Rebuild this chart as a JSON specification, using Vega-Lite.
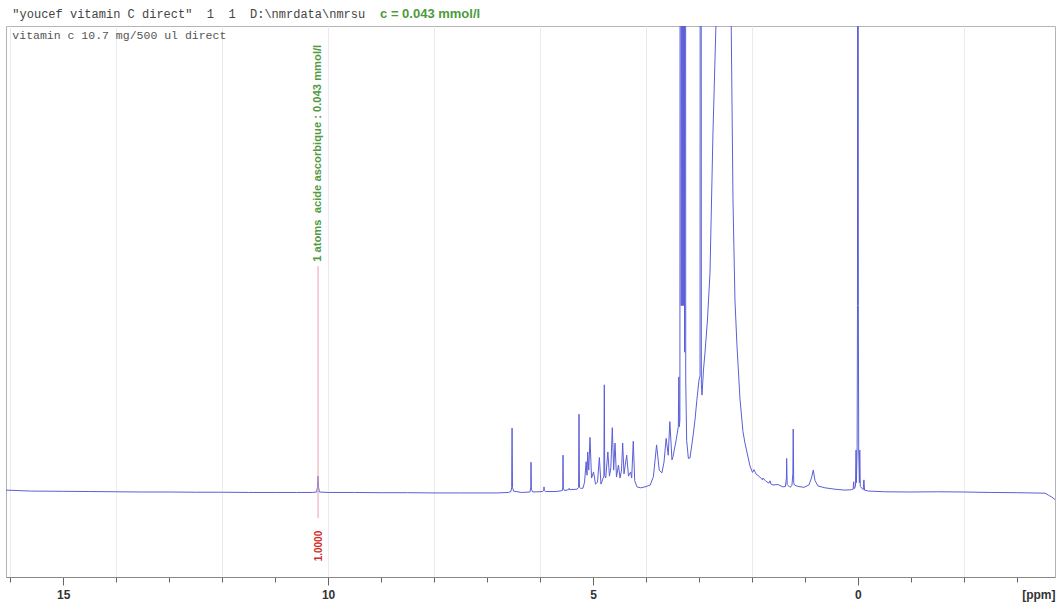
{
  "$schema": "https://vega.github.io/schema/vega-lite/v6.json",
  "width": 1049,
  "height": 551,
  "autosize": {"type": "none"},
  "padding": {"left": 6, "top": 26, "right": 5, "bottom": 27},
  "background": "white",
  "config": {"view": {"stroke": "#b4b4b4", "strokeWidth": 1}},
  "datasets": {
    "spectrum": [
      {"ppm": 16.08, "i": 0.4}, {"ppm": 15.6, "i": 0.2}, {"ppm": 15.0, "i": 0.15}, {"ppm": 14.5, "i": 0.1},
      {"ppm": 14.0, "i": 0.05}, {"ppm": 13.5, "i": 0.0}, {"ppm": 13.0, "i": 0.0}, {"ppm": 12.5, "i": -0.05},
      {"ppm": 12.0, "i": -0.05}, {"ppm": 11.5, "i": -0.1}, {"ppm": 11.0, "i": -0.1}, {"ppm": 10.6, "i": -0.1},
      {"ppm": 10.3, "i": -0.1}, {"ppm": 10.215, "i": 0.0}, {"ppm": 10.2, "i": 1.2}, {"ppm": 10.19, "i": 3.4},
      {"ppm": 10.18, "i": 1.0}, {"ppm": 10.165, "i": 0.0}, {"ppm": 10.0, "i": -0.1}, {"ppm": 9.5, "i": -0.1},
      {"ppm": 9.0, "i": -0.15}, {"ppm": 8.5, "i": -0.15}, {"ppm": 8.0, "i": -0.2}, {"ppm": 7.5, "i": -0.2},
      {"ppm": 7.0, "i": -0.2}, {"ppm": 6.8, "i": -0.2}, {"ppm": 6.6, "i": -0.1}, {"ppm": 6.55, "i": 0.1},
      {"ppm": 6.535, "i": 1.0}, {"ppm": 6.528, "i": 13.7}, {"ppm": 6.52, "i": 1.0}, {"ppm": 6.5, "i": 0.2},
      {"ppm": 6.35, "i": -0.1}, {"ppm": 6.19, "i": 0.0}, {"ppm": 6.175, "i": 1.0}, {"ppm": 6.17, "i": 6.4},
      {"ppm": 6.163, "i": 0.6}, {"ppm": 6.14, "i": 0.0}, {"ppm": 5.95, "i": 0.1}, {"ppm": 5.93, "i": 0.4},
      {"ppm": 5.925, "i": 1.1}, {"ppm": 5.918, "i": 0.3}, {"ppm": 5.9, "i": 0.1}, {"ppm": 5.7, "i": 0.1},
      {"ppm": 5.58, "i": 0.3}, {"ppm": 5.571, "i": 1.0}, {"ppm": 5.566, "i": 7.9}, {"ppm": 5.56, "i": 0.8},
      {"ppm": 5.54, "i": 0.3}, {"ppm": 5.46, "i": 0.5}, {"ppm": 5.45, "i": 0.8}, {"ppm": 5.44, "i": 0.5},
      {"ppm": 5.3, "i": 0.6}, {"ppm": 5.272, "i": 1.0}, {"ppm": 5.264, "i": 16.7}, {"ppm": 5.256, "i": 1.0},
      {"ppm": 5.236, "i": 0.8}, {"ppm": 5.19, "i": 0.8}, {"ppm": 5.16, "i": 2.1}, {"ppm": 5.13, "i": 6.5},
      {"ppm": 5.113, "i": 3.6}, {"ppm": 5.10, "i": 8.6}, {"ppm": 5.08, "i": 4.7}, {"ppm": 5.057, "i": 11.7},
      {"ppm": 5.028, "i": 3.0}, {"ppm": 4.99, "i": 4.3}, {"ppm": 4.953, "i": 1.7}, {"ppm": 4.915, "i": 2.1},
      {"ppm": 4.88, "i": 7.4}, {"ppm": 4.85, "i": 1.7}, {"ppm": 4.82, "i": 2.6}, {"ppm": 4.795, "i": 3.5},
      {"ppm": 4.787, "i": 23.0}, {"ppm": 4.779, "i": 3.5}, {"ppm": 4.76, "i": 3.0}, {"ppm": 4.72, "i": 8.6},
      {"ppm": 4.69, "i": 3.4}, {"ppm": 4.664, "i": 5.2}, {"ppm": 4.636, "i": 13.8}, {"ppm": 4.61, "i": 4.7},
      {"ppm": 4.585, "i": 10.5}, {"ppm": 4.557, "i": 3.2}, {"ppm": 4.52, "i": 5.8}, {"ppm": 4.49, "i": 3.0},
      {"ppm": 4.462, "i": 4.7}, {"ppm": 4.44, "i": 10.5}, {"ppm": 4.415, "i": 3.9}, {"ppm": 4.364, "i": 7.9},
      {"ppm": 4.33, "i": 3.4}, {"ppm": 4.29, "i": 4.3}, {"ppm": 4.27, "i": 3.0}, {"ppm": 4.24, "i": 10.9},
      {"ppm": 4.213, "i": 2.4}, {"ppm": 4.17, "i": 1.1}, {"ppm": 4.10, "i": 0.9}, {"ppm": 4.02, "i": 1.1},
      {"ppm": 3.92, "i": 1.5}, {"ppm": 3.86, "i": 3.3}, {"ppm": 3.80, "i": 10.1}, {"ppm": 3.75, "i": 4.7},
      {"ppm": 3.70, "i": 4.1}, {"ppm": 3.66, "i": 6.4}, {"ppm": 3.62, "i": 11.5}, {"ppm": 3.58, "i": 7.9},
      {"ppm": 3.55, "i": 15.1}, {"ppm": 3.51, "i": 6.9}, {"ppm": 3.49, "i": 7.6}, {"ppm": 3.43, "i": 11.2},
      {"ppm": 3.39, "i": 14}, {"ppm": 3.38, "i": 24.7}, {"ppm": 3.37, "i": 14}, {"ppm": 3.36, "i": 15.5},
      {"ppm": 3.345, "i": 500}, {"ppm": 3.335, "i": 40}, {"ppm": 3.325, "i": 500}, {"ppm": 3.315, "i": 40},
      {"ppm": 3.305, "i": 500}, {"ppm": 3.295, "i": 40}, {"ppm": 3.285, "i": 500}, {"ppm": 3.272, "i": 30},
      {"ppm": 3.262, "i": 500}, {"ppm": 3.25, "i": 24}, {"ppm": 3.232, "i": 11}, {"ppm": 3.20, "i": 7.2},
      {"ppm": 3.17, "i": 7.3}, {"ppm": 3.11, "i": 12.2}, {"ppm": 3.075, "i": 15.5}, {"ppm": 3.04, "i": 19.7},
      {"ppm": 3.0, "i": 24}, {"ppm": 2.98, "i": 25}, {"ppm": 2.968, "i": 500}, {"ppm": 2.955, "i": 23},
      {"ppm": 2.943, "i": 20.8}, {"ppm": 2.915, "i": 26.2}, {"ppm": 2.887, "i": 29.8}, {"ppm": 2.84, "i": 36.9},
      {"ppm": 2.792, "i": 47.0}, {"ppm": 2.736, "i": 77.0}, {"ppm": 2.679, "i": 100.5}, {"ppm": 2.62, "i": 250},
      {"ppm": 2.538, "i": 1500}, {"ppm": 2.45, "i": 300}, {"ppm": 2.396, "i": 105}, {"ppm": 2.358, "i": 62.7},
      {"ppm": 2.321, "i": 41.2}, {"ppm": 2.283, "i": 31.5}, {"ppm": 2.226, "i": 20}, {"ppm": 2.17, "i": 13},
      {"ppm": 2.132, "i": 10.5}, {"ppm": 2.038, "i": 5.6}, {"ppm": 1.99, "i": 4.2}, {"ppm": 1.962, "i": 4.8},
      {"ppm": 1.925, "i": 3.9}, {"ppm": 1.849, "i": 3.2}, {"ppm": 1.80, "i": 2.6}, {"ppm": 1.792, "i": 3.0},
      {"ppm": 1.736, "i": 2.3}, {"ppm": 1.68, "i": 1.9}, {"ppm": 1.66, "i": 2.4}, {"ppm": 1.64, "i": 1.7},
      {"ppm": 1.604, "i": 1.5}, {"ppm": 1.51, "i": 1.6}, {"ppm": 1.415, "i": 1.1}, {"ppm": 1.368, "i": 1.2},
      {"ppm": 1.35, "i": 3}, {"ppm": 1.345, "i": 7.2}, {"ppm": 1.335, "i": 1.6}, {"ppm": 1.283, "i": 1.0},
      {"ppm": 1.245, "i": 1.4}, {"ppm": 1.228, "i": 4}, {"ppm": 1.221, "i": 13.5}, {"ppm": 1.212, "i": 2},
      {"ppm": 1.198, "i": 1.5}, {"ppm": 1.132, "i": 1.2}, {"ppm": 1.019, "i": 1.0}, {"ppm": 0.925, "i": 1.5},
      {"ppm": 0.877, "i": 3.0}, {"ppm": 0.843, "i": 4.7}, {"ppm": 0.811, "i": 2.5}, {"ppm": 0.755, "i": 1.3},
      {"ppm": 0.623, "i": 0.9}, {"ppm": 0.434, "i": 0.6}, {"ppm": 0.245, "i": 0.4}, {"ppm": 0.12, "i": 0.5},
      {"ppm": 0.09, "i": 0.6}, {"ppm": 0.08, "i": 2.2}, {"ppm": 0.07, "i": 0.7}, {"ppm": 0.045, "i": 1.2},
      {"ppm": 0.035, "i": 9}, {"ppm": 0.028, "i": 2}, {"ppm": 0.015, "i": 9.5}, {"ppm": 0.008, "i": 40},
      {"ppm": 0.0, "i": 500}, {"ppm": -0.008, "i": 40}, {"ppm": -0.015, "i": 9}, {"ppm": -0.028, "i": 2},
      {"ppm": -0.035, "i": 9}, {"ppm": -0.045, "i": 1.2}, {"ppm": -0.1, "i": 0.5}, {"ppm": -0.113, "i": 2.6},
      {"ppm": -0.125, "i": 0.4}, {"ppm": -0.2, "i": 0.2}, {"ppm": -0.5, "i": 0.05}, {"ppm": -1.0, "i": 0.0},
      {"ppm": -1.5, "i": 0.05}, {"ppm": -2.0, "i": 0.0}, {"ppm": -2.5, "i": -0.1}, {"ppm": -3.0, "i": -0.15},
      {"ppm": -3.53, "i": -0.25}, {"ppm": -3.6, "i": -0.7}, {"ppm": -3.66, "i": -1.1}, {"ppm": -3.72, "i": -1.6}
    ],
    "integral": [{"ppm": 10.19, "top": 48.5, "bottom": -5.6}],
    "headerGray": [{"ppm": 15.96, "i": 101.7, "label": "\"youcef vitamin C direct\"\u00a0\u00a01\u00a0\u00a01\u00a0\u00a0D:\\nmrdata\\nmrsu"}],
    "headerNote": [{"ppm": 9.02, "i": 101.7, "label": "c = 0.043 mmol/l"}],
    "subNote": [{"ppm": 15.96, "i": 97.2, "label": "vitamin c 10.7 mg/500 ul direct"}],
    "peakNote": [{"ppm": 10.19, "i": 49.4, "label": "1 atoms\u00a0\u00a0acide ascorbique : 0.043 mmol/l"}],
    "integralValue": [{"ppm": 10.17, "i": -11.6, "label": "1.0000"}]
  },
  "encoding": {
    "x": {
      "field": "ppm",
      "type": "quantitative",
      "scale": {"domain": [-3.72, 16.08], "reverse": true, "nice": false, "zero": false},
      "axis": {
        "values": [-3, -2, -1, 0, 1, 2, 3, 4, 5, 6, 7, 8, 9, 10, 11, 12, 13, 14, 15, 16],
        "labelExpr": "datum.value % 5 === 0 ? datum.label : ''",
        "labelOverlap": false,
        "labelFlush": false,
        "labelFont": "Liberation Sans",
        "labelFontWeight": "bold",
        "labelFontSize": 12,
        "labelColor": "#333333",
        "labelPadding": 4,
        "tickSize": {"condition": {"test": "datum.value % 5 === 0", "value": 8}, "value": 5},
        "tickColor": "#666666",
        "domainColor": "#888888",
        "grid": true,
        "gridColor": "#ebebef",
        "gridOpacity": {"condition": {"test": "datum.value % 2 === 0 && datum.value !== 0", "value": 1}, "value": 0},
        "title": "[ppm]",
        "titleFont": "Liberation Sans",
        "titleFontWeight": "bold",
        "titleFontSize": 12,
        "titleColor": "#333333",
        "titleAnchor": "end",
        "titleAlign": "right",
        "titleBaseline": "top",
        "titleX": 1049,
        "titleY": 12
      }
    }
  },
  "layer": [
    {
      "data": {"name": "spectrum"},
      "mark": {"type": "line", "clip": true, "color": "#5b5fd6", "strokeWidth": 1},
      "encoding": {
        "y": {"field": "i", "type": "quantitative", "scale": {"domain": [-18.24, 100], "nice": false, "zero": false}, "axis": null}
      }
    },
    {
      "data": {"name": "integral"},
      "mark": {"type": "rule", "color": "#e8a3ad", "strokeWidth": 1},
      "encoding": {
        "y": {"field": "top", "type": "quantitative"},
        "y2": {"field": "bottom"}
      }
    },
    {
      "data": {"name": "headerGray"},
      "mark": {"type": "text", "clip": false, "align": "left", "baseline": "alphabetic", "font": "Liberation Mono", "fontSize": 12, "color": "#444444"},
      "encoding": {"y": {"field": "i", "type": "quantitative"}, "text": {"field": "label"}}
    },
    {
      "data": {"name": "headerNote"},
      "mark": {"type": "text", "clip": false, "align": "left", "baseline": "alphabetic", "font": "Liberation Sans", "fontWeight": "bold", "fontSize": 13, "color": "#4c9a3c"},
      "encoding": {"y": {"field": "i", "type": "quantitative"}, "text": {"field": "label"}}
    },
    {
      "data": {"name": "subNote"},
      "mark": {"type": "text", "align": "left", "baseline": "alphabetic", "font": "Liberation Mono", "fontSize": 11.5, "color": "#555555"},
      "encoding": {"y": {"field": "i", "type": "quantitative"}, "text": {"field": "label"}}
    },
    {
      "data": {"name": "peakNote"},
      "mark": {"type": "text", "angle": 270, "align": "left", "baseline": "middle", "font": "Liberation Sans", "fontWeight": "bold", "fontSize": 11.2, "color": "#4f9a45"},
      "encoding": {"y": {"field": "i", "type": "quantitative"}, "text": {"field": "label"}}
    },
    {
      "data": {"name": "integralValue"},
      "mark": {"type": "text", "angle": 270, "align": "center", "baseline": "middle", "font": "Liberation Sans", "fontWeight": "bold", "fontSize": 10, "color": "#d42a2a"},
      "encoding": {"y": {"field": "i", "type": "quantitative"}, "text": {"field": "label"}}
    }
  ]
}
